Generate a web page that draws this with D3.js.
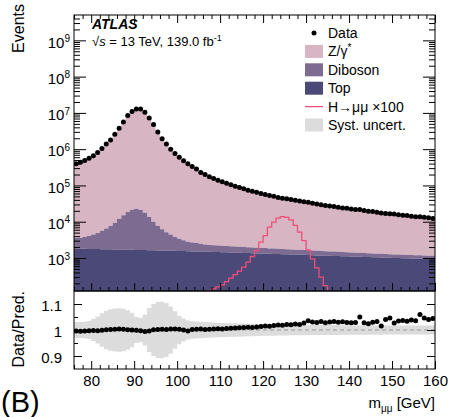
<!DOCTYPE html>
<html><head><meta charset="utf-8">
<script src="https://cdn.jsdelivr.net/npm/d3@7"></script>
<style>body{margin:0;background:#fff} svg{display:block;font-family:"Liberation Sans",Arial,Helvetica,sans-serif}</style>
</head><body><svg id="c" width="452" height="417"></svg>
<script>
// ---- data (1 GeV bins, lower edges) ----
const massLow = [76,77,78,79,80,81,82,83,84,85,86,87,88,89,90,91,92,93,94,95,96,97,98,99,100,101,102,103,104,105,
 106,107,108,109,110,111,112,113,114,115,116,117,118,119,120,121,122,123,124,125,126,127,128,129,130,131,132,133,134,135,
 136,137,138,139,140,141,142,143,144,145,146,147,148,149,150,151,152,153,154,155,156,157,158,159];
const dataEvents = [398000,436500,489800,562300,660700,812800,1047000,1380000,1778000,2570000,
 3802000,5623000,8511000,10965000,12882000,12882000,10471000,7244000,4786000,2951000,
 1950000,1380000,1000000,758600,602600,478600,398100,331100,281800,229100,
 199500,173800,154900,138000,125900,114800,104700,95500,87100,81280,
 74130,69180,64570,60260,56230,52480,50120,46770,44670,42660,
 40740,38910,37150,35480,34150,32360,30900,29510,28180,26920,
 26300,25120,23990,23440,22390,21880,21720,20420,19500,19060,
 18200,17420,16980,16600,16220,15490,15140,14790,14130,13800,
 13760,13180,12880,12300];
const zgamma = [396000,435000,488000,560000,658000,810000,1042000,1372000,1767000,2553000,
 3775000,5591000,8484000,10944000,12872000,12900000,10516000,7260000,4771000,2937000,
 1938000,1372000,991500,751800,597400,475500,396900,327700,278400,225700,
 196800,171000,152100,135100,123200,111960,101850,92660,84270,78450,
 71330,66410,61820,57530,53520,49810,47470,44150,42070,40080,
 38190,36380,34610,32930,31330,29850,28420,27090,25790,24590,
 23980,22860,21790,21270,20250,19780,19290,18370,17490,17080,
 16250,15860,15090,14740,14380,13680,13360,13020,12400,12090,
 11790,11500,11220,10680];
const diboson = [1750,1830,2010,2290,2700,3140,3870,4720,5860,7610,
 10300,13400,16900,19700,21200,19700,16100,11800,8370,6140,
 4560,3530,2880,2220,1820,1530,1280,1170,1060,955,
 860,810,770,750,740,720,700,680,660,640,
 620,600,585,570,555,540,525,510,495,480,
 465,450,440,430,420,410,400,390,380,370,
 360,350,340,330,322,314,306,298,290,283,
 276,269,262,256,250,244,238,232,226,221,
 216,211,206,200];
const topQuark = [1800,1800,1790,1780,1770,1760,1750,1740,1730,1720,
 1710,1700,1690,1680,1670,1660,1650,1640,1630,1620,
 1610,1600,1590,1580,1570,1560,1540,1520,1510,1500,
 1490,1480,1470,1460,1450,1430,1420,1400,1390,1380,
 1370,1350,1340,1330,1320,1300,1290,1280,1270,1260,
 1250,1240,1230,1220,1210,1190,1180,1170,1160,1150,
 1140,1130,1120,1110,1100,1090,1080,1070,1060,1050,
 1040,1030,1020,1010,1000,995,990,980,975,970,
 965,960,955,950];
const higgsX100 = [0,0,0,0,0,0,0,0,0,0,
 0,0,0,0,0,0,0,0,0,0,
 0,0,0,0,0,0,0,0,0,60,
 95,125,140,160,182,224,278,347,433,563,
 765,1100,1600,2740,4160,7060,9700,12500,13800,13200,
 11200,7900,5150,3030,1680,950,535,295,172,100,
 0,0,0,0,0,0,0,0,0,0,
 0,0,0,0,0,0,0,0,0,0,
 0,0,0,0];
const ratio = [0.996,0.995,0.996,0.997,0.998,0.997,0.999,1.001,1.002,1.003,
 1.004,1.003,1.001,1.000,0.999,0.997,0.994,0.996,1.001,1.002,
 1.003,1.002,1.004,1.004,1.003,1.000,0.996,1.002,1.003,1.004,
 1.002,1.003,1.004,1.005,1.004,1.006,1.007,1.008,1.009,1.010,
 1.011,1.010,1.012,1.013,1.015,1.014,1.017,1.019,1.018,1.021,
 1.020,1.023,1.021,1.027,1.036,1.031,1.029,1.033,1.028,1.031,
 1.033,1.030,1.032,1.029,1.028,1.029,1.050,1.028,1.024,1.030,
 1.033,1.015,1.040,1.046,1.027,1.035,1.037,1.034,1.038,1.036,
 1.060,1.046,1.040,1.044];
const systUnc = [0.031,0.031,0.032,0.035,0.042,0.052,0.064,0.074,0.080,0.083,
 0.084,0.082,0.076,0.066,0.050,0.047,0.060,0.085,0.100,0.108,
 0.109,0.104,0.090,0.072,0.055,0.044,0.037,0.034,0.033,0.032,
 0.031,0.030,0.029,0.028,0.027,0.027,0.026,0.026,0.025,0.025,
 0.024,0.024,0.023,0.023,0.022,0.022,0.022,0.021,0.021,0.021,
 0.020,0.020,0.020,0.020,0.019,0.019,0.019,0.019,0.019,0.019,
 0.019,0.019,0.018,0.018,0.018,0.018,0.018,0.018,0.018,0.018,
 0.018,0.018,0.017,0.017,0.017,0.017,0.017,0.017,0.017,0.017,
 0.017,0.017,0.017,0.017];
const xTicks = [80,90,100,110,120,130,140,150,160];
const yExps = [3,4,5,6,7,8,9];
const ratioTicks = [0.9,1,1.1];
const legendItems = ["Data","Z/γ*","Diboson","Top","H→μμ ×100","Syst. uncert."];

// ---- layout ----
const L=74,R=435,T=15,MB=291,RB=369;
const col={z:"#d8b5c3",dib:"#7e6b91",top:"#4a4978",h:"#ee4f78",syst:"#dcdcdc"};
const svg=d3.select("#c");
const x=d3.scaleLinear().domain([76,160]).range([L,R]);
const y=d3.scaleLog().domain([123,5e9]).range([MB,T]);
const yr=d3.scaleLinear().domain([0.85,1.15]).range([RB,MB]);

const defs=svg.append("defs");
defs.append("clipPath").attr("id","cm").append("rect").attr("x",L).attr("y",T).attr("width",R-L).attr("height",MB-T);
defs.append("clipPath").attr("id","cr").append("rect").attr("x",L).attr("y",MB).attr("width",R-L).attr("height",RB-MB);

const dibCum=topQuark.map((t,i)=>t+diboson[i]);
const totCum=dibCum.map((d,i)=>d+zgamma[i]);
function stepPts(lo,hi){return massLow.flatMap((m,i)=>[{m:m,lo:lo(i),hi:hi(i)},{m:m+1,lo:lo(i),hi:hi(i)}]);}
const area=d3.area().x(d=>x(d.m)).y0(d=>y(d.lo)).y1(d=>y(d.hi));
const gm=svg.append("g").attr("clip-path","url(#cm)");
gm.append("path").attr("d",area(stepPts(i=>dibCum[i],i=>totCum[i]))).attr("fill",col.z);
gm.append("path").attr("d",area(stepPts(i=>topQuark[i],i=>dibCum[i]))).attr("fill",col.dib);
gm.append("path").attr("d",area(stepPts(i=>1,i=>topQuark[i]))).attr("fill",col.top);
const hl=d3.line().x(d=>x(d.m)).y(d=>y(Math.max(d.hi,1)));
gm.append("path").attr("d",hl(stepPts(i=>0,i=>higgsX100[i]))).attr("fill","none").attr("stroke",col.h).attr("stroke-width",1.3);
gm.selectAll("circle").data(dataEvents).join("circle")
 .attr("cx",(d,i)=>x(massLow[i]+0.5)).attr("cy",d=>y(d)).attr("r",2.5).attr("fill","#000");

// ratio panel
const gr=svg.append("g").attr("clip-path","url(#cr)");
const rArea=d3.area().x(d=>x(d.m)).y0(d=>yr(1-d.lo)).y1(d=>yr(1+d.hi));
gr.append("path").attr("d",rArea(stepPts(i=>systUnc[i],i=>systUnc[i]))).attr("fill",col.syst);
gr.append("line").attr("x1",L).attr("x2",R).attr("y1",yr(1)).attr("y2",yr(1)).attr("stroke","#999").attr("stroke-dasharray","4,3").attr("stroke-width",1);
gr.selectAll("circle").data(ratio).join("circle")
 .attr("cx",(d,i)=>x(massLow[i]+0.5)).attr("cy",d=>yr(d)).attr("r",2.5).attr("fill","#000");

// axes
const fs="14px";
function clean(g){g.select(".domain").remove();g.selectAll("line").attr("stroke","#000");g.selectAll("text").attr("fill","#000").attr("font-size",fs).attr("font-family",null);}
const minorX=d3.range(76,161,2).filter(v=>v%10!==0);
const minorY=[];for(let e=2;e<10;e++)for(let k=2;k<10;k++){const v=k*Math.pow(10,e);if(v>123&&v<5e9)minorY.push(v);}
const majorY=yExps.map(e=>Math.pow(10,e));
// main left
const yl=svg.append("g").attr("transform",`translate(${L},0)`).call(d3.axisLeft(y).tickValues(majorY).tickSizeInner(-12).tickSizeOuter(0).tickPadding(4)).call(clean);
yl.selectAll(".tick text").attr("font-size","15px").attr("dy","0.45em").each(function(d){const t=d3.select(this);t.text(null);t.append("tspan").text("10");t.append("tspan").attr("dy","-0.55em").attr("font-size","10px").text(Math.round(Math.log10(d)));});
svg.append("g").attr("transform",`translate(${L},0)`).call(d3.axisLeft(y).tickValues(minorY).tickSizeInner(-6).tickSizeOuter(0).tickFormat("")).call(clean);
// main right
svg.append("g").attr("transform",`translate(${R},0)`).call(d3.axisRight(y).tickValues(majorY).tickSizeInner(-12).tickSizeOuter(0).tickFormat("")).call(clean);
svg.append("g").attr("transform",`translate(${R},0)`).call(d3.axisRight(y).tickValues(minorY).tickSizeInner(-6).tickSizeOuter(0).tickFormat("")).call(clean);
// main top & bottom
[[T,d3.axisTop],[MB,d3.axisBottom]].forEach(([yy,ax])=>{
 svg.append("g").attr("transform",`translate(0,${yy})`).call(ax(x).tickValues(xTicks).tickSizeInner(-8).tickSizeOuter(0).tickFormat("")).call(clean);
 svg.append("g").attr("transform",`translate(0,${yy})`).call(ax(x).tickValues(minorX).tickSizeInner(-4).tickSizeOuter(0).tickFormat("")).call(clean);
});
// ratio bottom
const xb=svg.append("g").attr("transform",`translate(0,${RB})`).call(d3.axisBottom(x).tickValues(xTicks).tickSizeInner(-8).tickSizeOuter(0).tickPadding(6).tickFormat(d3.format("d"))).call(clean);
xb.selectAll(".tick text").attr("font-size","15px");
svg.append("g").attr("transform",`translate(0,${RB})`).call(d3.axisBottom(x).tickValues(minorX).tickSizeInner(-4).tickSizeOuter(0).tickFormat("")).call(clean);
// ratio left/right
const rl=svg.append("g").attr("transform",`translate(${L},0)`).call(d3.axisLeft(yr).tickValues(ratioTicks).tickSizeInner(-8).tickSizeOuter(0).tickPadding(12).tickFormat(d=>d===1?"1":d3.format(".1f")(d))).call(clean);
rl.selectAll(".tick text").attr("font-size","15px").attr("dy","0.4em");
svg.append("g").attr("transform",`translate(${L},0)`).call(d3.axisLeft(yr).tickValues([0.95,1.05]).tickSizeInner(-4).tickSizeOuter(0).tickFormat("")).call(clean);
svg.append("g").attr("transform",`translate(${R},0)`).call(d3.axisRight(yr).tickValues(ratioTicks).tickSizeInner(-8).tickSizeOuter(0).tickFormat("")).call(clean);
svg.append("g").attr("transform",`translate(${R},0)`).call(d3.axisRight(yr).tickValues([0.95,1.05]).tickSizeInner(-4).tickSizeOuter(0).tickFormat("")).call(clean);

// frames
svg.append("rect").attr("x",L).attr("y",T).attr("width",R-L).attr("height",MB-T).attr("fill","none").attr("stroke","#000");
svg.append("rect").attr("x",L).attr("y",MB).attr("width",R-L).attr("height",RB-MB).attr("fill","none").attr("stroke","#000");

// titles
svg.append("text").attr("transform","translate(24,4) rotate(-90)").attr("text-anchor","end").attr("font-size","16px").text("Events");
svg.append("text").attr("transform",`translate(24,${MB}) rotate(-90)`).attr("text-anchor","end").attr("font-size","16px").text("Data/Pred.");
const xt=svg.append("text").attr("x",R).attr("y",408).attr("text-anchor","end").attr("font-size","15px");
xt.append("tspan").text("m");xt.append("tspan").attr("font-size","10px").attr("dy","4").text("μμ");xt.append("tspan").attr("dy","-4").text(" [GeV]");
svg.append("text").attr("x",1).attr("y",412).attr("font-size","29px").text("(B)");
svg.append("text").attr("x",92).attr("y",29).attr("font-size","14px").attr("font-weight","bold").attr("font-style","italic").text("ATLAS");
const st=svg.append("text").attr("x",92).attr("y",46).attr("font-size","13px");
st.append("tspan").text("√");st.append("tspan").attr("font-style","italic").text("s");st.append("tspan").text(" = 13 TeV, 139.0 fb");st.append("tspan").attr("dy","-5").attr("font-size","9px").text("-1");

// legend
const lx=305,ly0=33,ldy=18.4;
const lg=svg.append("g").attr("font-size","14px");
legendItems.forEach((name,i)=>{
 const cy=ly0+i*ldy;
 if(i===0) lg.append("circle").attr("cx",lx+9).attr("cy",cy).attr("r",2.5).attr("fill","#000");
 else if(i===4) lg.append("line").attr("x1",lx).attr("x2",lx+18).attr("y1",cy).attr("y2",cy).attr("stroke",col.h).attr("stroke-width",1.3);
 else lg.append("rect").attr("x",lx).attr("y",cy-6.5).attr("width",18).attr("height",13).attr("fill",[null,col.z,col.dib,col.top,null,col.syst][i]);
 const t=lg.append("text").attr("x",lx+23).attr("y",cy).attr("dy","0.36em");
 if(i===1){t.append("tspan").text("Z/γ");t.append("tspan").attr("dy","-5").attr("font-size","10px").text("*");}
 else t.text(name);
});
</script></body></html>
